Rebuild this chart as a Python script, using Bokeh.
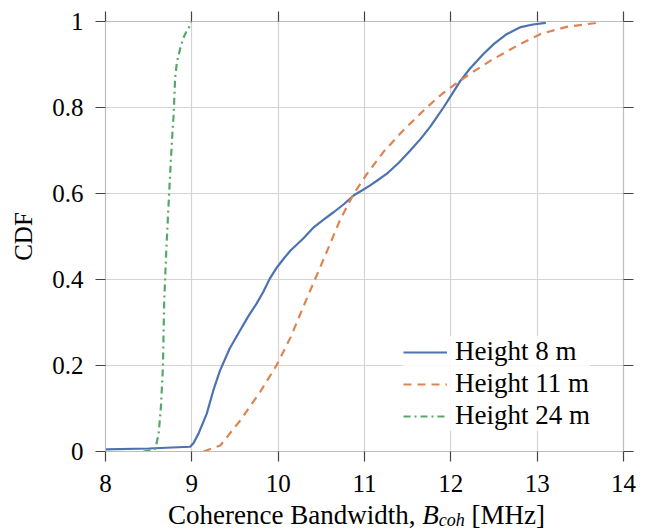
from bokeh.plotting import figure
from bokeh.layouts import column
from bokeh.models import (LinearAxis, Legend, LegendItem, CustomJSTickFormatter,
                          FixedTicker, Range1d, Div)
from bokeh.embed import file_html
from bokeh.resources import INLINE

# ---- data ----
x_ticks = [8, 9, 10, 11, 12, 13, 14]
y_ticks = [0, 0.2, 0.4, 0.6, 0.8, 1.0]

x_8 = [8.0, 8.5, 8.98, 9.02, 9.076, 9.173, 9.249, 9.326, 9.44, 9.56, 9.65, 9.75, 9.83, 9.903,
       9.985, 10.07, 10.146, 10.22, 10.293, 10.415, 10.53, 10.646, 10.76, 10.877, 10.97,
       11.066, 11.16, 11.259, 11.4, 11.53, 11.65, 11.76, 11.84, 11.915, 12.01, 12.11, 12.22,
       12.38, 12.5, 12.65, 12.81, 12.95, 13.1]
y_8 = [0.005, 0.007, 0.011, 0.02, 0.041, 0.088, 0.142, 0.188, 0.24, 0.282, 0.313, 0.344, 0.372,
       0.402, 0.428, 0.45, 0.468, 0.482, 0.496, 0.522, 0.54, 0.557, 0.575, 0.596, 0.607,
       0.619, 0.632, 0.646, 0.672, 0.70, 0.727, 0.755, 0.778, 0.80, 0.83, 0.862, 0.89,
       0.925, 0.948, 0.971, 0.987, 0.993, 0.997]

x_11 = [9.135, 9.33, 9.56, 9.79, 9.98, 10.145, 10.33, 10.49, 10.61, 10.72, 10.877, 11.03,
        11.22, 11.45, 11.72, 11.9, 12.07, 12.25, 12.46, 12.77, 13.04, 13.35, 13.66, 13.72]
y_11 = [0.0, 0.014, 0.072, 0.138, 0.2, 0.266, 0.355, 0.43, 0.487, 0.54, 0.60, 0.646,
        0.697, 0.747, 0.80, 0.832, 0.857, 0.882, 0.909, 0.944, 0.971, 0.988, 0.996, 1.0]

x_24 = [8.44, 8.52, 8.577, 8.615, 8.642, 8.665, 8.68, 8.704, 8.73, 8.755, 8.775, 8.788, 8.796,
        8.807, 8.827, 8.865, 8.903, 8.94, 8.972, 8.99]
y_24 = [0.0, 0.003, 0.006, 0.041, 0.103, 0.196, 0.35, 0.467, 0.572, 0.67, 0.74, 0.779, 0.816,
        0.87, 0.905, 0.937, 0.962, 0.978, 0.988, 1.0]

labels = ["Height 8 m", "Height 11 m", "Height 24 m"]
colors = ["#4C72B0", "#DD8452", "#55A868"]

FONT = "Liberation Serif"

p = figure(width=652, height=500, x_range=Range1d(8, 14), y_range=Range1d(0, 1),
           output_backend="svg", toolbar_location=None,
           min_border_left=105, min_border_right=29, min_border_top=21, min_border_bottom=49)
p.outline_line_color = None
p.background_fill_color = "white"
p.border_fill_color = "white"

def style_axis(ax, show_labels=True):
    ax.axis_line_color = "#bdbdbd"
    ax.axis_line_width = 1.2
    ax.major_tick_line_color = "#444444"
    ax.major_tick_line_width = 1.2
    ax.major_tick_out = 10
    ax.major_tick_in = 0
    ax.minor_tick_line_color = None
    ax.major_label_text_font = FONT
    ax.major_label_text_font_size = "25px"
    ax.major_label_text_color = "black"
    if not show_labels:
        ax.formatter = CustomJSTickFormatter(code="return '';")
        ax.major_label_standoff = 0

xa = p.xaxis[0]
ya = p.yaxis[0]
xa.ticker = FixedTicker(ticks=x_ticks)
ya.ticker = FixedTicker(ticks=y_ticks)
ya.formatter = CustomJSTickFormatter(code="return (Math.round(tick*10)/10).toString();")
style_axis(xa)
style_axis(ya)
xa.major_label_standoff = 13
ya.major_label_standoff = 12

ya.axis_label = "CDF"
ya.axis_label_text_font = FONT
ya.axis_label_text_font_size = "25px"
ya.axis_label_text_font_style = "normal"
ya.axis_label_text_color = "black"
ya.axis_label_standoff = 12

xr = LinearAxis(ticker=FixedTicker(ticks=y_ticks))
style_axis(xr, show_labels=False)
p.add_layout(xr, "right")
xt = LinearAxis(ticker=FixedTicker(ticks=x_ticks))
style_axis(xt, show_labels=False)
p.add_layout(xt, "above")

p.xgrid.ticker = FixedTicker(ticks=x_ticks)
p.ygrid.ticker = FixedTicker(ticks=y_ticks)
p.grid.grid_line_color = "#d4d4d4"
p.grid.grid_line_width = 1.2

r1 = p.line(x_8, y_8, line_color=colors[0], line_width=2.2)
r2 = p.line(x_11, y_11, line_color=colors[1], line_width=2.2, line_dash="8 6")
r3 = p.line(x_24, y_24, line_color=colors[2], line_width=2.2, line_dash="7 4 2 4")

legend = Legend(items=[LegendItem(label=labels[0], renderers=[r1]),
                       LegendItem(label=labels[1], renderers=[r2]),
                       LegendItem(label=labels[2], renderers=[r3])],
                location=(298, 20))
legend.label_text_font = FONT
legend.label_text_font_size = "27px"
legend.label_text_color = "black"
legend.glyph_width = 44
legend.glyph_height = 30
legend.label_height = 30
legend.label_standoff = 8
legend.padding = 11
legend.spacing = 1
legend.border_line_color = None
legend.background_fill_alpha = 0.85
p.add_layout(legend)

xlabel_html = (
    "<div style=\"font-family:'Liberation Serif'; font-size:27px; line-height:31px; "
    "padding-left:168px; color:black; white-space:nowrap;\">"
    "Coherence Bandwidth,&nbsp;<i>B</i><sub style=\"font-size:18px; line-height:0; "
    "vertical-align:-2px; font-style:italic;\">coh</sub>&nbsp;[MHz]</div>"
)
xlabel = Div(text=xlabel_html, width=652, height=31, margin=(0, 0, 0, 0))

layout = column(p, xlabel, spacing=0)
open("out.html", "w").write(file_html(layout, INLINE))
